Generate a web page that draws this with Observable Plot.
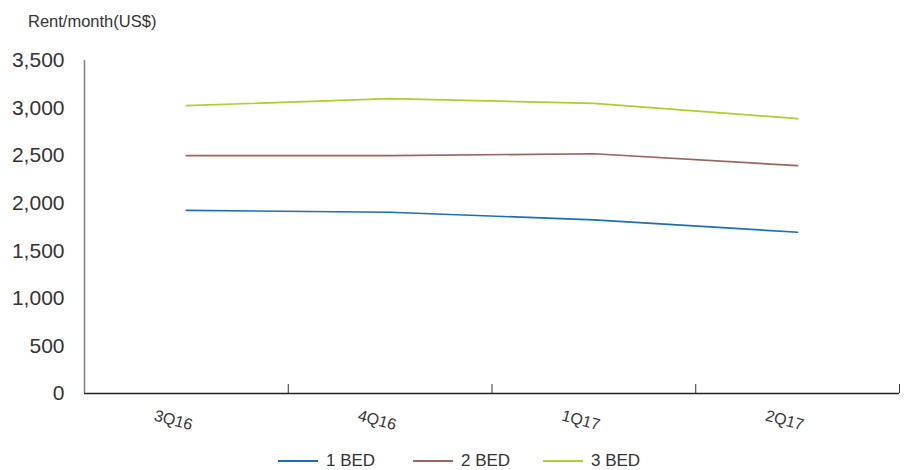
<!DOCTYPE html>
<html>
<head>
<meta charset="utf-8">
<script src="https://cdn.jsdelivr.net/npm/d3@7"></script>
<script src="https://cdn.jsdelivr.net/npm/@observablehq/plot@0.6"></script>
<style>
  body { margin: 0; background: #fff; font-family: "Liberation Sans", Arial, sans-serif; color: #333; }
  #wrap { width: 905px; height: 470px; position: relative; overflow: hidden; }
  #title { height: 40px; font-size: 16.5px; padding-left: 28px; line-height: 42px; color: #333; }
  #legend { position: absolute; left: 0; top: 451px; width: 905px; height: 19px; font-size: 17px; line-height: 19px; color: #333; }
  #legend .item { position: absolute; top: 0; display: flex; align-items: center; gap: 8px; height: 19px; }
  #legend .sw { width: 40px; height: 2px; }
</style>
</head>
<body>
<div id="wrap">
  <div id="title">Rent/month(US$)</div>
  <div id="chart"></div>
  <div id="legend"></div>
</div>
<script>
// Quarters on the x axis
const quarters = ["3Q16", "4Q16", "1Q17", "2Q17"];
// Average monthly rent (US$) by unit size
const bed1 = [1925, 1905, 1825, 1695];
const bed2 = [2500, 2500, 2520, 2395];
const bed3 = [3025, 3100, 3050, 2890];
const seriesNames = ["1 BED", "2 BED", "3 BED"];
const seriesColors = ["#1a6fb8", "#9b645c", "#aecd2e"];
const yTicks = [0, 500, 1000, 1500, 2000, 2500, 3000, 3500];

const rows = [];
[bed1, bed2, bed3].forEach((vals, s) => {
  vals.forEach((v, i) => rows.push({series: seriesNames[s], i, quarter: quarters[i], value: v}));
});

// Category boundaries sit halfway between quarters
const bounds = d3.range(quarters.length + 1).map(k => k - 0.5);

const chart = Plot.plot({
  width: 905,
  height: 405,
  marginLeft: 84,
  marginRight: 6,
  marginTop: 20,
  marginBottom: 52,
  style: {fontFamily: "Liberation Sans, Arial, sans-serif", color: "#333", background: "#fff"},
  x: {type: "linear", domain: [-0.5, quarters.length - 0.5]},
  y: {domain: [0, 3500]},
  color: {domain: seriesNames, range: seriesColors},
  marks: [
    Plot.axisY({ticks: yTicks, tickSize: 0, tickPadding: 20, tickFormat: d3.format(","), fontSize: 21, label: null, fill: "#333"}),
    Plot.axisX({ticks: bounds, tickSize: -9, tickFormat: () => "", label: null, stroke: "#333"}),
    Plot.axisX({ticks: d3.range(quarters.length), tickSize: 0, tickFormat: i => quarters[i], tickRotate: 15, textAnchor: "middle", dx: -13, dy: 14, fontSize: 16, label: null, fill: "#333"}),
    Plot.ruleX([-0.5], {stroke: "#808080", strokeWidth: 1.5}),
    Plot.ruleY([0], {stroke: "#222", strokeWidth: 1.5}),
    Plot.line(rows, {x: "i", y: "value", z: "series", stroke: "series", strokeWidth: 1.7})
  ]
});
document.getElementById("chart").appendChild(chart);

// Legend below the chart
const legendLeft = [278, 413, 543];
const legend = document.getElementById("legend");
seriesNames.forEach((name, k) => {
  const item = document.createElement("div");
  item.className = "item";
  item.style.left = legendLeft[k] + "px";
  const sw = document.createElement("div");
  sw.className = "sw";
  sw.style.background = seriesColors[k];
  const label = document.createElement("span");
  label.textContent = name;
  item.appendChild(sw);
  item.appendChild(label);
  legend.appendChild(item);
});
</script>
</body>
</html>
